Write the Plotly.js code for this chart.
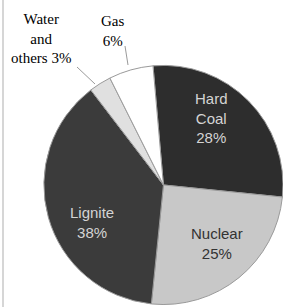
<!DOCTYPE html>
<html><head><meta charset="utf-8">
<script src="https://cdn.plot.ly/plotly-3.0.1.min.js"></script>
<style>html,body{margin:0;padding:0;background:#fff}#c{width:283px;height:307px}</style>
</head><body><div id="c"></div>
<script>
const labels = ["Hard Coal", "Nuclear", "Lignite", "Water and others", "Gas"];
const values = [28, 25, 38, 3, 6];
const labelText = ["Hard<br>Coal<br>28%", "Nuclear<br>25%", "Lignite<br>38%", "Water<br>and<br>others 3%", "Gas<br>6%"];
const colors = ["#2d2d2d", "#c8c8c8", "#3b3b3b", "#e0e0e0", "#ffffff"];
const textColors = ["#d4d4d4", "#333333", "#d4d4d4", "#000000", "#000000"];
const insideLabel = [true, true, true, false, false];

const W = 283, H = 307;
const trace = {
  type: "pie",
  labels: labels,
  values: values,
  textinfo: "none",
  sort: false,
  direction: "clockwise",
  rotation: -5,
  marker: {colors: colors, line: {color: "#9a9a9a", width: 1}},
  hoverinfo: "none",
  showlegend: false,
  domain: {x: [0.155, 1], y: [0.008, 0.787]}
};

// label placement (pixel centres of each label block)
const labelPos = [
  {x: 211, y: 118},
  {x: 217, y: 243},
  {x: 92, y: 222},
  {x: 41, y: 38},
  {x: 112, y: 31}
];
const leaders = {3: [[77, 67], [95, 84]], 4: [[125, 46], [128, 65]]};

const annotations = [];
const shapes = [{type: "line", xref: "paper", yref: "paper", x0: 3/W, x1: 3/W, y0: 0, y1: 1, line: {color: "#d6d6d6", width: 2}}];
labelText.forEach((t, i) => {
  const p = labelPos[i];
  annotations.push({xref: "paper", yref: "paper", x: p.x / W, y: 1 - p.y / H, xanchor: "center", yanchor: "middle",
    text: t, showarrow: false, align: "center",
    font: insideLabel[i]
      ? {family: "Liberation Sans, Arial, sans-serif", size: 15, color: textColors[i]}
      : {family: "Liberation Serif, Times New Roman, serif", size: 15, color: textColors[i]}});
  if (leaders[i]) {
    const [a, b] = leaders[i];
    shapes.push({type: "line", xref: "paper", yref: "paper", x0: a[0] / W, y0: 1 - a[1] / H, x1: b[0] / W, y1: 1 - b[1] / H, line: {color: "#9a9a9a", width: 1}});
  }
});

Plotly.newPlot("c", [trace], {
  width: W, height: H,
  margin: {l: 0, r: 0, t: 0, b: 0},
  paper_bgcolor: "#fff",
  annotations: annotations,
  shapes: shapes
}, {staticPlot: true});
</script></body></html>
